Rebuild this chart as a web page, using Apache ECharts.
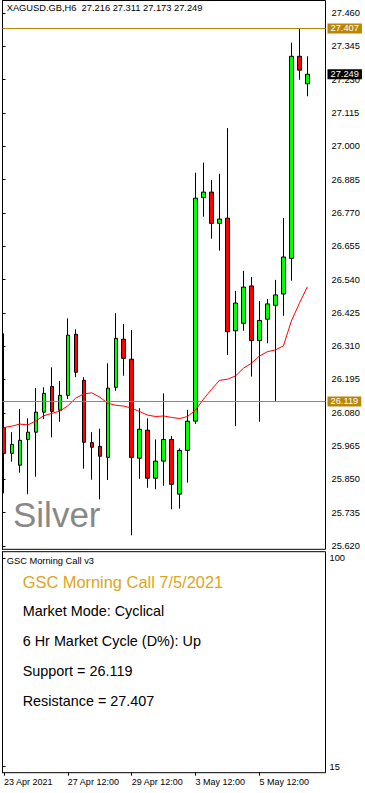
<!DOCTYPE html>
<html><head><meta charset="utf-8">
<script src="https://cdn.jsdelivr.net/npm/echarts@6/dist/echarts.min.js"></script>
<style>html,body{margin:0;padding:0;background:#fff}#c{width:365px;height:793px}</style>
</head><body><div id="c"></div>
<script>
const symbolName = 'XAGUSD.GB,H6';
const categories = [
'2021.04.23 12:00','2021.04.23 18:00','2021.04.26 00:00','2021.04.26 06:00','2021.04.26 12:00','2021.04.26 18:00',
'2021.04.27 00:00','2021.04.27 06:00','2021.04.27 12:00','2021.04.27 18:00','2021.04.28 00:00','2021.04.28 06:00',
'2021.04.28 12:00','2021.04.28 18:00','2021.04.29 00:00','2021.04.29 06:00','2021.04.29 12:00','2021.04.29 18:00',
'2021.04.30 00:00','2021.04.30 06:00','2021.04.30 12:00','2021.04.30 18:00','2021.05.03 00:00','2021.05.03 06:00',
'2021.05.03 12:00','2021.05.03 18:00','2021.05.04 00:00','2021.05.04 06:00','2021.05.04 12:00','2021.05.04 18:00',
'2021.05.05 00:00','2021.05.05 06:00','2021.05.05 12:00','2021.05.05 18:00','2021.05.06 00:00','2021.05.06 06:00',
'2021.05.06 12:00','2021.05.06 18:00','2021.05.07 00:00','2021.05.07 06:00','2021.05.07 12:00'];
const openP  = [26.029,25.940,25.899,25.988,26.013,26.082,26.171,26.089,26.140,26.351,26.192,25.977,25.964,25.926,26.168,26.334,26.265,25.923,26.020,25.854,25.913,25.988,25.799,25.950,26.051,26.823,26.842,26.734,26.752,26.363,26.389,26.518,26.329,26.403,26.451,26.490,26.613,27.311,27.216];
const closeP = [25.940,25.971,25.985,26.013,26.082,26.147,26.085,26.140,26.348,26.220,25.978,25.961,25.930,26.165,26.337,26.268,25.926,26.023,25.854,25.913,25.988,25.833,25.950,26.051,26.821,26.842,26.734,26.749,26.360,26.459,26.514,26.329,26.399,26.456,26.487,26.618,27.311,27.263,27.249];
const lowP   = [25.802,25.911,25.873,25.799,25.859,26.058,25.995,26.049,26.128,26.203,25.887,25.849,25.781,25.848,26.156,26.208,25.657,25.852,25.821,25.816,25.828,25.747,25.749,25.839,26.042,26.757,26.681,26.640,26.280,26.034,26.363,26.205,26.049,26.320,26.121,26.415,26.536,27.230,27.173];
const highP  = [26.354,26.013,26.093,26.061,26.165,26.168,26.237,26.190,26.406,26.368,26.203,26.013,26.025,26.251,26.424,26.387,26.366,26.096,26.061,25.988,26.147,26.000,25.957,26.090,26.909,26.944,26.884,26.905,27.063,26.501,26.570,26.549,26.466,26.473,26.539,26.753,27.358,27.407,27.311];
const maValues = [26.029,26.034,26.041,26.038,26.052,26.070,26.078,26.086,26.104,26.131,26.145,26.149,26.134,26.113,26.106,26.103,26.096,26.084,26.072,26.067,26.069,26.064,26.060,26.067,26.090,26.127,26.161,26.192,26.196,26.207,26.234,26.251,26.276,26.291,26.297,26.311,26.397,26.458,26.515];
const yTicks = [25.620,25.735,25.850,25.965,26.080,26.195,26.310,26.425,26.540,26.655,26.770,26.885,27.000,27.115,27.230,27.345,27.460];
const lowerTicks = [15, 100];
const tickIndex = [0, 8, 16, 24, 32];
const tickText = ['23 Apr 2021','27 Apr 12:00','29 Apr 12:00','3 May 12:00','5 May 12:00'];
const supportLevel = 26.119;
const resistanceLevel = 27.407;
const panelTitle = 'GSC Morning Call v3';
const callTitle = 'GSC Morning Call 7/5/2021';
const infoLines = ['Market Mode: Cyclical','6 Hr Market Cycle (D%): Up','Support = 26.119','Resistance = 27.407'];
const watermark = 'Silver';

const FF = '"Liberation Sans", Arial, sans-serif';
const last = openP.length - 1;
const lastClose = closeP[last];
const header = symbolName + '  ' + [openP[last], highP[last], lowP[last], closeP[last]].map(v => v.toFixed(3)).join(' ');

const chart = echarts.init(document.getElementById('c'), null, {renderer: 'svg'});
const yMin = 25.6086, yMax = 27.5036;
const tickFn = (idx) => tickIndex.indexOf(idx) >= 0;

function priceLabel(bg, val) {
  return {show: true, position: 'end', distance: 2, formatter: () => val.toFixed(3),
    color: '#fff', backgroundColor: bg, padding: [1, 3, 0, 3], fontSize: 9.3, fontFamily: FF, lineHeight: 9};
}

const infoTexts = infoLines.map((t, i) => ({
  type: 'text', x: 22.7, y: 610.7 + i * 30, silent: true, z: 10,
  style: {text: t, fill: '#000', font: '14.4px ' + FF, verticalAlign: 'middle', align: 'left'}
}));

chart.setOption({
  animation: false,
  backgroundColor: '#fff',
  grid: [
    {left: -0.7, top: 0.5, width: 328, height: 548.8, show: false},
    {left: 2.5, top: 0.5, width: 323, height: 548.8, show: true, borderColor: '#000', borderWidth: 1, backgroundColor: 'transparent'},
    {left: 2.5, top: 551.7, width: 323, height: 221, show: true, borderColor: '#000', borderWidth: 1, backgroundColor: 'transparent'},
    {left: -0.7, top: 551.7, width: 328, height: 221, show: false}
  ],
  xAxis: [
    {gridIndex: 0, type: 'category', data: categories, boundaryGap: true, show: false},
    {gridIndex: 1, type: 'value', min: 0, max: 1, show: false},
    {gridIndex: 2, type: 'value', min: 0, max: 1, show: false},
    {gridIndex: 3, type: 'category', data: categories, boundaryGap: true,
      axisLine: {show: false},
      axisTick: {show: true, alignWithLabel: true, interval: tickFn, length: 3, lineStyle: {color: '#000', width: 1}},
      axisLabel: {show: true, interval: tickFn, align: 'left', margin: 5, fontSize: 9, fontFamily: FF, color: '#000',
        hideOverlap: false, showMinLabel: true, showMaxLabel: true,
        formatter: (v, idx) => { const k = tickIndex.indexOf(idx); return k >= 0 ? tickText[k] : ''; }},
      splitLine: {show: false}}
  ],
  yAxis: [
    {gridIndex: 0, type: 'value', min: yMin, max: yMax, show: false},
    {gridIndex: 1, type: 'value', min: yMin, max: yMax, position: 'right',
      axisLine: {show: true, lineStyle: {color: '#000', width: 1}},
      axisTick: {show: true, length: 3, customValues: yTicks, lineStyle: {color: '#000'}},
      axisLabel: {show: true, customValues: yTicks, margin: 6, fontSize: 9.3, fontFamily: FF, color: '#000',
        formatter: v => Number(v).toFixed(3)},
      splitLine: {show: false}},
    {gridIndex: 2, type: 'value', min: 12.5, max: 102.6, position: 'right',
      axisLine: {show: true, lineStyle: {color: '#000', width: 1}},
      axisTick: {show: true, length: 3, customValues: lowerTicks, lineStyle: {color: '#000'}},
      axisLabel: {show: true, customValues: lowerTicks, margin: 4, fontSize: 9.3, fontFamily: FF, color: '#000'},
      splitLine: {show: false}},
    {gridIndex: 3, type: 'value', min: 0, max: 1, show: false}
  ],
  series: [
    {type: 'candlestick', xAxisIndex: 0, yAxisIndex: 0, barWidth: 4,
      data: openP.map((o, i) => [o, closeP[i], lowP[i], highP[i]]),
      itemStyle: {color: '#00ff00', color0: '#ff0000', borderColor: '#000', borderColor0: '#000', borderColorDoji: '#000', borderWidth: 1},
      emphasis: {disabled: true}, silent: true, z: 2},
    {type: 'line', xAxisIndex: 0, yAxisIndex: 0, data: maValues, symbol: 'none', silent: true,
      lineStyle: {color: '#ff0000', width: 1}, z: 3},
    {type: 'line', xAxisIndex: 1, yAxisIndex: 1, data: [[0.5, 26.5]], symbol: 'none', silent: true,
      lineStyle: {color: 'transparent', width: 0}, z: 4,
      markLine: {silent: true, symbol: ['none', 'none'], animation: false, precision: 3,
        data: [
          {yAxis: supportLevel, lineStyle: {color: '#B8860B', width: 1, type: 'solid'}, label: priceLabel('#B8860B', supportLevel)},
          {yAxis: resistanceLevel, lineStyle: {color: '#B8860B', width: 1, type: 'solid'}, label: priceLabel('#B8860B', resistanceLevel)},
          {yAxis: lastClose, lineStyle: {color: 'transparent', width: 1, opacity: 1}, label: priceLabel('#000', lastClose)}
        ]}}
  ],
  graphic: [
    {type: 'text', x: 6.7, y: 7.5, silent: true, z: 10,
      style: {text: header, fill: '#000', font: '9.3px ' + FF, verticalAlign: 'middle', align: 'left'}},
    {type: 'text', x: 13, y: 514, silent: true, z: 10,
      style: {text: watermark, fill: '#888888', font: '35px ' + FF, verticalAlign: 'middle', align: 'left'}},
    {type: 'text', x: 6.7, y: 560.7, silent: true, z: 10,
      style: {text: panelTitle, fill: '#000', font: '9.3px ' + FF, verticalAlign: 'middle', align: 'left'}},
    {type: 'text', x: 22.7, y: 581.7, silent: true, z: 10,
      style: {text: callTitle, fill: '#DAA520', font: '16.4px ' + FF, verticalAlign: 'middle', align: 'left'}}
  ].concat(infoTexts)
});
</script></body></html>
